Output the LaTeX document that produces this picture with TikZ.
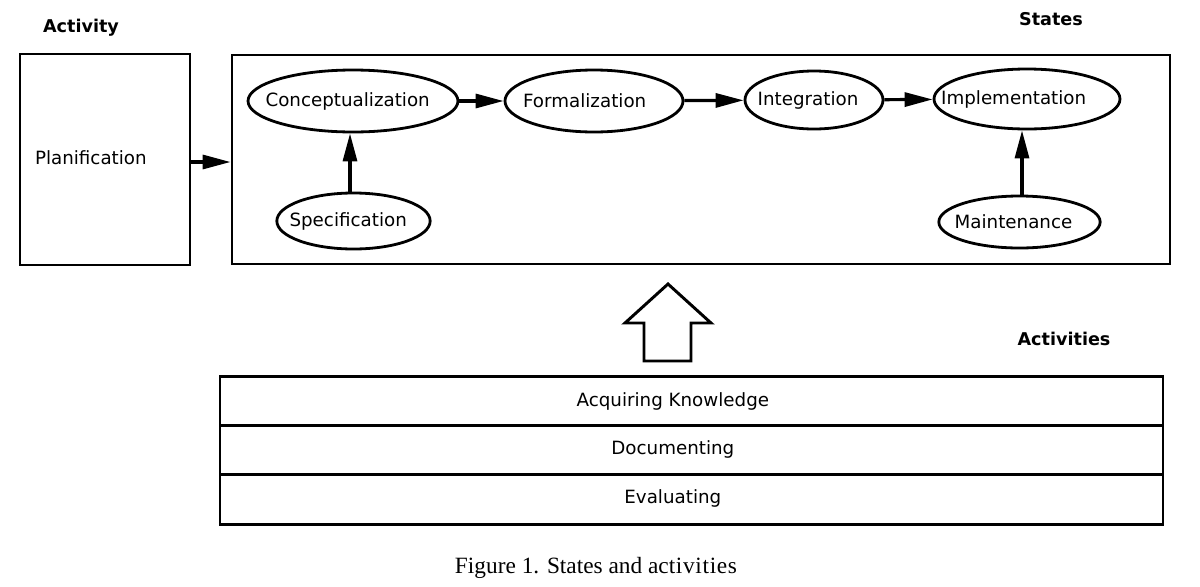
\documentclass[tikz,border=0pt]{standalone}
\usepackage{fontspec}
\setmainfont{DejaVu Sans}
\newfontfamily\capfont{Liberation Serif}
\usetikzlibrary{arrows.meta,shapes.geometric}
\newcommand{\eltext}[2]{\makebox[0pt]{#2\hspace*{#1}}}
\begin{document}
\begin{tikzpicture}[x=0.75pt,y=-0.75pt,
  every node/.style={font=\fontsize{13.7}{16}\selectfont},
  st/.style={draw, line width=2.1pt, ellipse, inner sep=0pt},
  box/.style={draw, line width=2.1pt, rectangle, inner sep=0pt},
  row/.style={draw, line width=2.2pt, rectangle, inner sep=0pt, minimum width=707.25pt, minimum height=37pt},
  ttl/.style={font=\fontsize{13.2}{16}\selectfont\bfseries},
  arr/.style={line width=2.4pt, -{Triangle[length=21pt,width=10.5pt]}, shorten >=0pt}
]
\useasboundingbox (0,0) rectangle (1200,586);
% labels
\node[ttl] (lact) at (81,28) {Activity};
\node[ttl] (lst) at (1051,19) {States};
\node[ttl] (lacts) at (1064,339) {Activities};
% planification box
\node[box, minimum width=127.5pt, minimum height=158.25pt, text width=105pt, inner xsep=11.25pt, align=left] (plan) at (105,159.5) {\raisebox{3pt}{Planification}};
% states box
\node[box, minimum width=703.5pt, minimum height=156.75pt] (states) at (701,159.5) {};
% states
\node[st, minimum width=157.5pt, minimum height=46.5pt] (conc) at (353,101) {\eltext{8pt}{Conceptualization}};
\node[st, minimum width=133.5pt, minimum height=46.5pt] (form) at (594,101) {\eltext{14pt}{Formalization}};
\node[st, minimum width=103.5pt, minimum height=43.5pt] (integ) at (814,100) {\eltext{9pt}{Integration}};
\node[st, minimum width=139.5pt, minimum height=45pt] (impl) at (1027,99) {\eltext{20pt}{Implementation}};
\node[st, minimum width=115pt, minimum height=42pt] (spec) at (353.5,221) {\eltext{8pt}{Specification}};
\node[st, minimum width=121pt, minimum height=39pt] (maint) at (1019.5,222) {\eltext{9pt}{Maintenance}};
% arrows
\draw[arr] (plan.east |- 0,162) -- (states.west |- 0,162);
\draw[arr] (conc) -- (form);
\draw[arr] (form) -- (integ);
\draw[arr] (integ) -- (impl);
\draw[arr] (spec.north -| 350,0) -- (conc.south -| 350,0);
\draw[arr] (maint.north -| 1022,0) -- (impl.south -| 1022,0);
% big hollow arrow
\draw[line width=2.2pt, line join=miter] (668,284) -- (711,323) -- (691,323) -- (691,361) -- (644,361) -- (644,323) -- (625,323) -- cycle;
% activity rows
\node[row] (acq) at (691.5,401) {\raisebox{2pt}{Acquiring Knowledge}\hspace*{28pt}};
\node[row] (doc) at (691.5,450) {\raisebox{4pt}{Documenting}\hspace*{28pt}};
\node[row] (eva) at (691.5,499.5) {\raisebox{4pt}{Evaluating}\hspace*{28pt}};
% caption
\node[font=\capfont\fontsize{17.5}{20}\selectfont] (cap) at (596,568) {Figure 1. States and act\kern0.5pt i\kern0.5pt v\kern0.5pt i\kern0.5pt t\kern0.5pt i\kern0.5pt e\kern0.5pt s};
\end{tikzpicture}
\end{document}
